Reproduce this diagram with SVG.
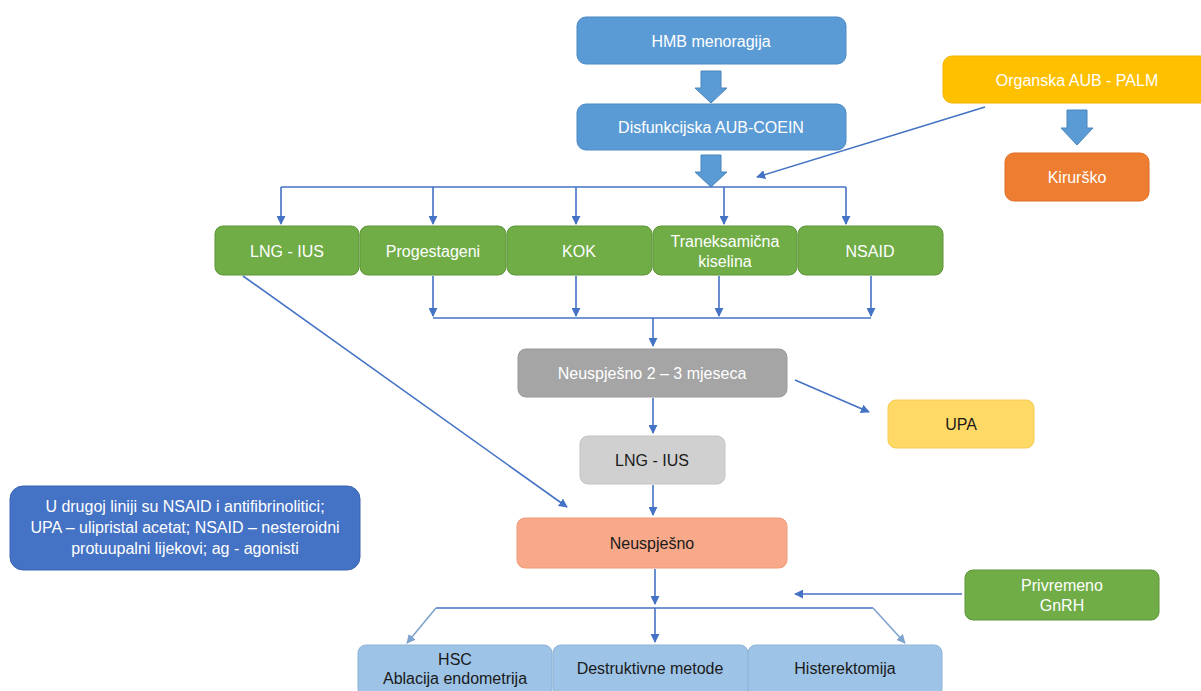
<svg xmlns="http://www.w3.org/2000/svg" width="1201" height="691" viewBox="0 0 1201 691">
<defs>
<marker id="ah" viewBox="0 0 10 10" refX="9" refY="5" markerWidth="9" markerHeight="9" markerUnits="userSpaceOnUse" orient="auto">
<path d="M0,0 L10,5 L0,10 z" fill="#4472c4"/>
</marker>
<marker id="ahg" viewBox="0 0 10 10" refX="9" refY="5" markerWidth="9" markerHeight="9" markerUnits="userSpaceOnUse" orient="auto">
<path d="M0,0 L10,5 L0,10 z" fill="#7fa3cf"/>
</marker>
</defs>
<style>
text{font-family:"Liberation Sans",Arial,sans-serif;font-size:16px;text-anchor:middle;dominant-baseline:central}
.w{fill:#ffffff}
.d{fill:#1a1a1a}
.blue rect{fill:#5b9bd5;stroke:#4a89c4;stroke-width:1}
.green rect{fill:#70ad47;stroke:#5c9438;stroke-width:1}
.c line,.c polyline{stroke:#4472c4;stroke-width:1.6;fill:none}
.ba{fill:#5b9bd5;stroke:#4a85bd;stroke-width:1}
</style>
<rect width="1201" height="691" fill="#ffffff"/>

<g id="n-hmb" class="blue"><rect x="577" y="17" width="269" height="47" rx="9"/><text class="w" x="711" y="41">HMB menoragija</text></g>
<g id="n-coein" class="blue"><rect x="577" y="104" width="269" height="46" rx="9"/><text class="w" x="711" y="127">Disfunkcijska AUB-COEIN</text></g>
<g id="n-palm"><rect x="943" y="56" width="270" height="47" rx="9" fill="#ffc000" stroke="#f0b400"/><text class="w" x="1077" y="80">Organska AUB - PALM</text></g>
<g id="n-kir"><rect x="1005" y="153" width="144" height="48" rx="9" fill="#ed7d31" stroke="#e06f22"/><text class="w" x="1077" y="177">Kirurško</text></g>

<g id="n-lng1" class="green"><rect x="215" y="226" width="144" height="49" rx="8"/><text class="w" x="287" y="251">LNG - IUS</text></g>
<g id="n-prog" class="green"><rect x="360" y="226" width="146" height="49" rx="8"/><text class="w" x="433" y="251">Progestageni</text></g>
<g id="n-kok" class="green"><rect x="507" y="226" width="145" height="49" rx="8"/><text class="w" x="579" y="251">KOK</text></g>
<g id="n-tran" class="green"><rect x="653" y="226" width="144" height="49" rx="8"/><text class="w" x="725" y="241">Traneksamična</text><text class="w" x="725" y="261">kiselina</text></g>
<g id="n-nsaid" class="green"><rect x="798" y="226" width="145" height="49" rx="8"/><text class="w" x="870" y="251">NSAID</text></g>

<g id="n-neu23"><rect x="518" y="349" width="269" height="48" rx="8" fill="#a5a5a5" stroke="#999"/><text class="w" x="652" y="373">Neuspješno 2 – 3 mjeseca</text></g>
<g id="n-upa"><rect x="888" y="400" width="146" height="48" rx="8" fill="#ffd966" stroke="#f5cc55"/><text class="d" x="961" y="424">UPA</text></g>
<g id="n-lng2"><rect x="580" y="436" width="145" height="48" rx="8" fill="#d0d0d0" stroke="#c4c4c4"/><text class="d" x="652" y="460">LNG - IUS</text></g>
<g id="n-neu"><rect x="517" y="518" width="270" height="50" rx="8" fill="#f8a98a" stroke="#f09a78"/><text class="d" x="652" y="543">Neuspješno</text></g>
<g id="n-note"><rect x="10" y="486" width="350" height="84" rx="13" fill="#4472c4" stroke="#3a64b0"/><text class="w" x="185" y="506">U drugoj liniji su NSAID i antifibrinolitici;</text><text class="w" x="185" y="527">UPA – ulipristal acetat; NSAID – nesteroidni</text><text class="w" x="185" y="548">protuupalni lijekovi; ag - agonisti</text></g>
<g id="n-gnrh" class="green"><rect x="965" y="570" width="194" height="50" rx="8"/><text class="w" x="1062" y="585">Privremeno</text><text class="w" x="1062" y="605">GnRH</text></g>

<g id="n-hsc"><rect x="358" y="645" width="194" height="52" rx="8" fill="#9dc3e6" stroke="#8db3d6"/><text class="d" x="455" y="659">HSC</text><text class="d" x="455" y="678">Ablacija endometrija</text></g>
<g id="n-destr"><rect x="553" y="645" width="195" height="52" rx="8" fill="#9dc3e6" stroke="#8db3d6"/><text class="d" x="650" y="668">Destruktivne metode</text></g>
<g id="n-hist"><rect x="748" y="645" width="194" height="52" rx="8" fill="#9dc3e6" stroke="#8db3d6"/><text class="d" x="845" y="668">Histerektomija</text></g>

<g id="connectors" class="c">
<path class="ba" d="M701,71 H721 V88 H727 L711,103 L695,88 H701 Z"/>
<path class="ba" d="M701,155 H721 V172 H727 L711,187 L695,172 H701 Z"/>
<path class="ba" d="M1067,110 H1087 V128 H1093 L1077,145 L1061,128 H1067 Z"/>
<line x1="985" y1="107" x2="757" y2="177" marker-end="url(#ah)"/>
<line x1="281" y1="187" x2="846" y2="187"/>
<line x1="281" y1="187" x2="281" y2="224" marker-end="url(#ah)"/>
<line x1="433" y1="187" x2="433" y2="224" marker-end="url(#ah)"/>
<line x1="576" y1="187" x2="576" y2="224" marker-end="url(#ah)"/>
<line x1="724" y1="187" x2="724" y2="224" marker-end="url(#ah)"/>
<line x1="846" y1="187" x2="846" y2="224" marker-end="url(#ah)"/>
<line x1="433" y1="276" x2="433" y2="316" marker-end="url(#ah)"/>
<line x1="576" y1="276" x2="576" y2="316" marker-end="url(#ah)"/>
<line x1="719" y1="276" x2="719" y2="316" marker-end="url(#ah)"/>
<line x1="871" y1="276" x2="871" y2="316" marker-end="url(#ah)"/>
<line x1="433" y1="318" x2="871" y2="318"/>
<line x1="653" y1="318" x2="653" y2="346" marker-end="url(#ah)"/>
<line x1="795" y1="380" x2="869" y2="412" marker-end="url(#ah)"/>
<line x1="653" y1="398" x2="653" y2="433" marker-end="url(#ah)"/>
<line x1="653" y1="485" x2="653" y2="515" marker-end="url(#ah)"/>
<line x1="243" y1="276" x2="567" y2="507" marker-end="url(#ah)"/>
<line x1="655" y1="569" x2="655" y2="604" marker-end="url(#ah)"/>
<line x1="962" y1="594" x2="795" y2="594" marker-end="url(#ah)"/>
<line x1="436" y1="608" x2="873" y2="608"/>
<line x1="436" y1="608" x2="407" y2="643" marker-end="url(#ahg)" style="stroke:#7fa3cf"/>
<line x1="873" y1="608" x2="905" y2="643" marker-end="url(#ahg)" style="stroke:#7fa3cf"/>
<line x1="655" y1="608" x2="655" y2="642" marker-end="url(#ah)"/>
</g>
</svg>
